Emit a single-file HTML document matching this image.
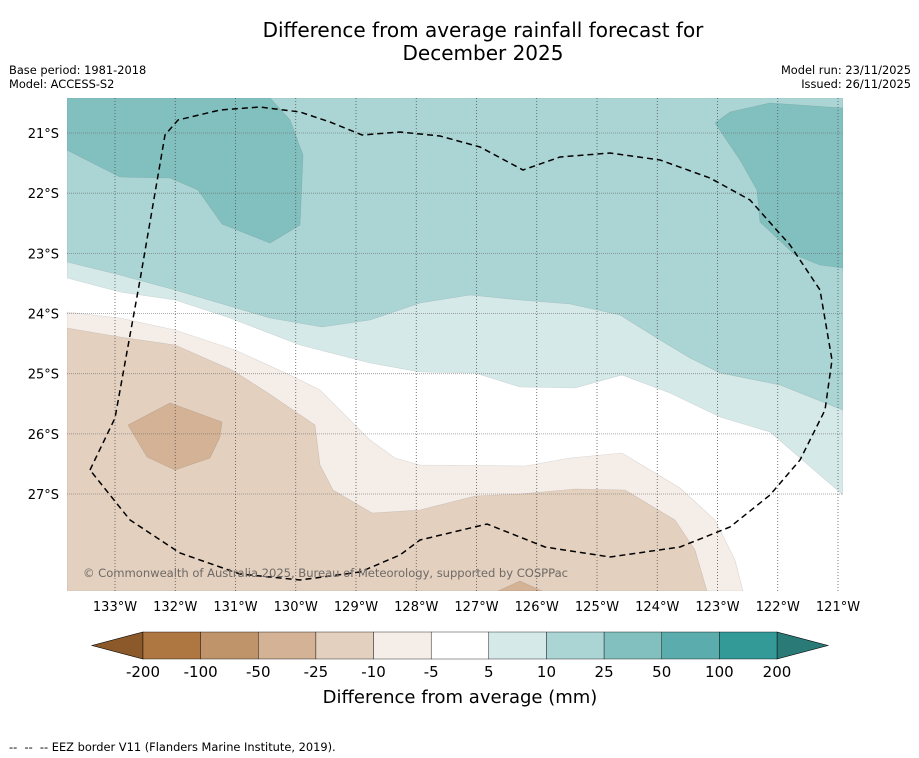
<!DOCTYPE html>
<html><head><meta charset="utf-8">
<style>
body{margin:0;background:#fff;font-family:"DejaVu Sans","Liberation Sans",sans-serif;}
#wrap{position:relative;width:919px;height:758px;overflow:hidden;background:#fff}
.t{position:absolute;white-space:nowrap;color:#000}
</style></head>
<body>
<div id="wrap">
<div class="t" style="left:0;width:966px;top:19px;text-align:center;font-size:20px;line-height:23px">Difference from average rainfall forecast for<br>December 2025</div>
<div class="t" style="left:9px;top:63px;font-size:11.4px;line-height:14px">Base period: 1981-2018<br>Model: ACCESS-S2</div>
<div class="t" style="right:8px;top:63px;font-size:11.4px;line-height:14px;text-align:right">Model run: 23/11/2025<br>Issued: 26/11/2025</div>
<svg id="svg" width="919" height="758" style="position:absolute;left:0;top:0"></svg>
<div class="t" style="left:9px;top:740px;font-size:11.4px">-- &nbsp;-- &nbsp;-- EEZ border V11 (Flanders Marine Institute, 2019).</div>
</div>
<script>
// ---- data ----
const lonTicks=[133,132,131,130,129,128,127,126,125,124,123,122,121]; // degrees W
const latTicks=[21,22,23,24,25,26,27]; // degrees S
const cbLevels=["-200","-100","-50","-25","-10","-5","5","10","25","50","100","200"];
const cbColors=["#ae7640","#c0946a","#d3b295","#e3d0bf","#f4ede8","#ffffff","#d6e9e9","#aad5d4","#82c0bf","#5aadac","#339a98"];
// contour polygons as [lonW, latS] (pixel-traced then converted)
const px2=(p)=>p.map(([x,y])=>[133-(x-115)/60.25, 21+(y-133)/60.17]);
const band5to10=px2([[67,98],[843,98],[843,495],[770,432],[720,417],[670,393],[622,375],[575,388],[520,387],[475,373],[420,372],[370,363],[300,345],[230,318],[175,300],[120,292],[67,278]]);
const band10to25=px2([[67,98],[843,98],[843,410],[780,385],[720,373],[690,358],[660,340],[620,315],[570,304],[520,300],[470,295],[420,303],[370,320],[322,327],[270,318],[175,290],[120,275],[67,262]]);
const band25a=px2([[67,98],[270,98],[290,120],[303,155],[300,225],[270,243],[222,224],[198,190],[170,178],[120,177],[67,150]]);
const band25b=px2([[715,123],[730,112],[770,103],[843,108],[843,268],[820,265],[795,255],[760,222],[757,190],[740,160]]);
const bandm5=px2([[67,312],[120,318],[175,330],[235,350],[290,375],[320,390],[370,440],[395,458],[420,465],[525,466],[570,458],[622,453],[680,488],[715,520],[735,560],[743,591],[67,591]]);
const bandm10=px2([[67,328],[120,337],[175,345],[232,370],[268,393],[315,425],[320,465],[333,490],[372,513],[420,510],[475,496],[520,494],[575,489],[625,490],[675,520],[695,550],[707,591],[67,591]]);
const bandm25a=px2([[128,425],[170,403],[222,422],[220,437],[210,458],[175,470],[147,457]]);
const bandm25b=px2([[498,591],[520,581],[542,591]]);
const eez=px2([[90,470],[115,418],[140,280],[165,135],[178,120],[220,110],[260,107],[300,112],[330,122],[362,135],[400,132],[440,136],[480,147],[523,170],[560,157],[610,153],[660,160],[710,178],[750,200],[790,245],[820,290],[832,360],[825,410],[800,460],[770,495],[730,527],[680,547],[610,557],[545,547],[487,524],[420,540],[400,555],[360,572],[300,580],[240,574],[180,553],[130,520],[90,470]]);

// ---- axes ----
const X=(lonW)=>115+(133-lonW)*60.25;
const Y=(latS)=>133+(latS-21)*60.17;
const NS="http://www.w3.org/2000/svg";
const svg=document.getElementById('svg');
function mk(tag,attrs,parent){const e=document.createElementNS(NS,tag);for(const k in attrs)e.setAttribute(k,attrs[k]);(parent||svg).appendChild(e);return e;}
const defs=mk('defs',{});
const cp=mk('clipPath',{id:'mapclip'},defs);
mk('rect',{x:67,y:98,width:776,height:493},cp);
const g=mk('g',{'clip-path':'url(#mapclip)'});


mk('rect',{x:67,y:98,width:776,height:493,fill:'#fff'},g);
function poly(pts,fill,name){
  const p=mk('polygon',{points:pts.map(([a,b])=>X(a).toFixed(1)+','+Y(b).toFixed(1)).join(' '),fill:fill,stroke:'rgba(0,0,0,0.12)','stroke-width':0.6},g);
  
  
}
poly(band5to10,cbColors[6],'contour-5-to-10');
poly(band10to25,cbColors[7],'contour-10-to-25');
poly(band25a,cbColors[8],'contour-25-to-50-west');
poly(band25b,cbColors[8],'contour-25-to-50-east');
poly(bandm5,cbColors[4],'contour-minus5-to-minus10');
poly(bandm10,cbColors[3],'contour-minus10-to-minus25');
poly(bandm25a,cbColors[2],'contour-minus25-to-minus50-west');
poly(bandm25b,cbColors[2],'contour-minus25-to-minus50-south');
// gridlines
latTicks.forEach(l=>{const e=mk('line',{x1:67,x2:843,y1:Y(l),y2:Y(l),stroke:'#666','stroke-width':0.8,'stroke-dasharray':'1,1','opacity':0.7},g);
  
  });
lonTicks.forEach(l=>{const e=mk('line',{x1:X(l),x2:X(l),y1:98,y2:591,stroke:'#555','stroke-width':0.8,'stroke-dasharray':'1,2'},g);
  
  });
// EEZ
const ez=mk('path',{d:'M'+eez.map(([a,b])=>X(a).toFixed(1)+' '+Y(b).toFixed(1)).join(' L'),fill:'none',stroke:'#000','stroke-width':1.5,'stroke-dasharray':'6,4'},g);


const cr=mk('text',{x:83,y:577,'font-size':11.6,fill:'#6f6a66','font-family':'DejaVu Sans, Liberation Sans, sans-serif',textLength:485},g);
cr.textContent='© Commonwealth of Australia 2025, Bureau of Meteorology, supported by COSPPac';


// tick labels
lonTicks.forEach(l=>{const t=mk('text',{x:X(l),y:611,'font-size':13,'text-anchor':'middle','font-family':'DejaVu Sans, Liberation Sans, sans-serif'});t.textContent=l+'°W';
  
  });
latTicks.forEach(l=>{const t=mk('text',{x:59,y:Y(l)+5,'font-size':13,'text-anchor':'end','font-family':'DejaVu Sans, Liberation Sans, sans-serif'});t.textContent=l+'°S';
  
  });
// colorbar
const cb=mk('g',{});


const cx0=143,cx1=777,cy0=632,cy1=659,cw=(cx1-cx0)/cbColors.length;
mk('polygon',{points:`${cx0},${cy0} ${cx0},${cy1} 92,645.5`,fill:'#8c5a2a',stroke:'#000','stroke-width':0.6},cb);
mk('polygon',{points:`${cx1},${cy0} ${cx1},${cy1} 828,645.5`,fill:'#2a7a78',stroke:'#000','stroke-width':0.6},cb);
cbColors.forEach((c,i)=>{const r=mk('rect',{x:cx0+i*cw,y:cy0,width:cw,height:cy1-cy0,fill:c,stroke:'#000','stroke-width':0.4},cb);
  
  });
cbLevels.forEach((v,i)=>{const t=mk('text',{x:cx0+i*cw,y:677,'font-size':15,'text-anchor':'middle','font-family':'DejaVu Sans, Liberation Sans, sans-serif'},cb);t.textContent=v;
  
  });
const ct=mk('text',{x:460,y:703,'font-size':18,'text-anchor':'middle','font-family':'DejaVu Sans, Liberation Sans, sans-serif'},cb);
ct.textContent='Difference from average (mm)';


</script>
</body></html>
